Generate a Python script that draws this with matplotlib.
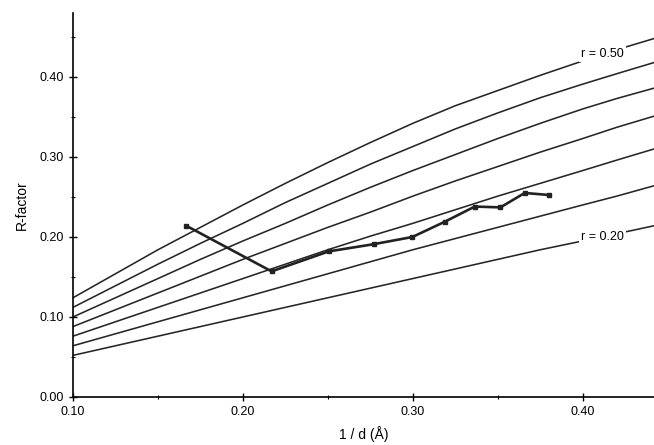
import matplotlib
matplotlib.use("Agg")
import matplotlib.pyplot as plt
from matplotlib.ticker import MultipleLocator, FormatStrFormatter

plt.rcParams['font.family'] = ['Liberation Sans', 'DejaVu Sans']

# Luzzati curves at fixed 1/d positions
s_grid = [0.10, 0.125, 0.15, 0.175, 0.20, 0.225, 0.25, 0.275,
          0.30, 0.325, 0.35, 0.375, 0.40, 0.42, 0.442]
curve_r50 = [0.124, 0.154, 0.184, 0.212, 0.240, 0.267, 0.293, 0.318,
             0.342, 0.364, 0.383, 0.402, 0.420, 0.434, 0.448]
curve_r45 = [0.112, 0.139, 0.166, 0.192, 0.217, 0.243, 0.267, 0.291,
             0.313, 0.335, 0.355, 0.374, 0.391, 0.404, 0.418]
curve_r40 = [0.100, 0.124, 0.148, 0.172, 0.195, 0.217, 0.240, 0.262,
             0.283, 0.303, 0.323, 0.342, 0.360, 0.373, 0.386]
curve_r35 = [0.088, 0.109, 0.130, 0.151, 0.172, 0.192, 0.212, 0.231,
             0.251, 0.270, 0.288, 0.306, 0.323, 0.337, 0.351]
curve_r30 = [0.076, 0.094, 0.112, 0.130, 0.148, 0.166, 0.184, 0.201,
             0.217, 0.234, 0.251, 0.267, 0.283, 0.296, 0.310]
curve_r25 = [0.064, 0.079, 0.094, 0.109, 0.124, 0.139, 0.154, 0.169,
             0.184, 0.198, 0.212, 0.226, 0.240, 0.251, 0.264]
curve_r20 = [0.052, 0.064, 0.076, 0.088, 0.100, 0.112, 0.124, 0.136,
             0.148, 0.160, 0.172, 0.184, 0.195, 0.204, 0.214]
curves = [curve_r50, curve_r45, curve_r40, curve_r35, curve_r30, curve_r25, curve_r20]

# observed R-factor per resolution shell
obs_s = [0.1667, 0.2169, 0.2506, 0.2771, 0.2998, 0.3188, 0.3365, 0.3516, 0.3659, 0.3800]
obs_r = [0.214, 0.157, 0.182, 0.191, 0.200, 0.219, 0.238, 0.237, 0.255, 0.2525]

fig = plt.figure(figsize=(6.54, 4.45), dpi=100)
ax = fig.add_axes([0.1116, 0.1079, 0.8884, 0.863])

for c in curves:
    ax.plot(s_grid, c, color='#262626', linewidth=1.15, zorder=2)

ax.plot(obs_s, obs_r, color='#222222', linewidth=1.9, marker='s',
        markersize=3, zorder=3)

# labels sit on the lines, hiding them underneath
lbl_box = dict(boxstyle='square,pad=0.15', facecolor='white', edgecolor='none')
ax.text(0.4118, 0.429, 'r = 0.50', fontsize=9, ha='center', va='center',
        bbox=lbl_box, zorder=4)
ax.text(0.4118, 0.200, 'r = 0.20', fontsize=9, ha='center', va='center',
        bbox=lbl_box, zorder=4)

ax.set_xlim(0.10, 0.442)
ax.set_ylim(0.0, 0.48)
ax.spines['top'].set_visible(False)
ax.spines['right'].set_visible(False)
ax.spines['left'].set_linewidth(1.2)
ax.spines['bottom'].set_linewidth(1.2)

ax.xaxis.set_major_locator(MultipleLocator(0.10))
ax.xaxis.set_minor_locator(MultipleLocator(0.05))
ax.yaxis.set_major_locator(MultipleLocator(0.10))
ax.yaxis.set_minor_locator(MultipleLocator(0.05))
ax.xaxis.set_major_formatter(FormatStrFormatter('%.2f'))
ax.yaxis.set_major_formatter(FormatStrFormatter('%.2f'))
ax.tick_params(which='major', direction='inout', length=6, width=1, labelsize=9)
ax.tick_params(which='minor', direction='inout', length=3, width=0.8)

ax.set_xlabel('1 / d (Å)', fontsize=10, labelpad=6)
ax.set_ylabel('R-factor', fontsize=10, labelpad=8)

fig.savefig('out.png', dpi=100)
